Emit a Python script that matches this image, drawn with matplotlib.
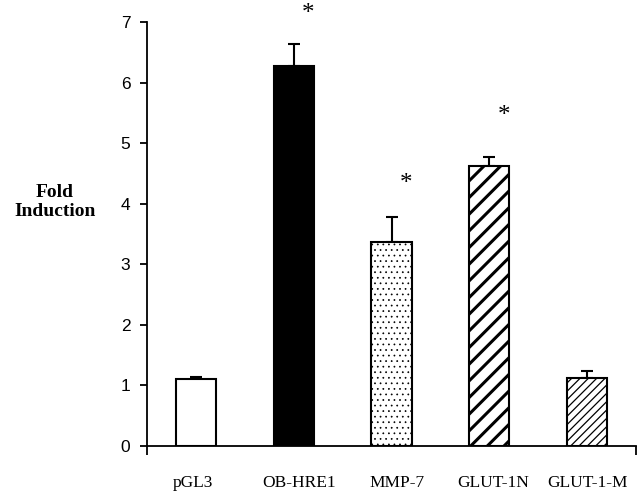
import matplotlib
matplotlib.use("Agg")
import matplotlib.pyplot as plt
import numpy as np

categories = ["pGL3", "OB-HRE1", "MMP-7", "GLUT-1N", "GLUT-1-M"]
fold_induction = [1.10, 6.27, 3.37, 4.62, 1.12]
error_up = [0.04, 0.36, 0.41, 0.15, 0.12]
significant = [False, True, True, True, False]
star_y = [None, 7.21, 4.41, 5.53, None]
yticks = [0, 1, 2, 3, 4, 5, 6, 7]

# small horizontal offsets of the category labels relative to the bars
label_shift = [-0.035, 0.05, 0.06, 0.04, 0.0]

styles = [
    dict(facecolor="white", hatch=None, hlw=1.0, hc="black"),
    dict(facecolor="black", hatch=None, hlw=1.0, hc="black"),
    dict(facecolor="white", hatch="...", hlw=0.5, hc="#666666"),
    dict(facecolor="white", hatch="//", hlw=2.2, hc="black"),
    dict(facecolor="white", hatch="////", hlw=0.9, hc="black"),
]

fig = plt.figure(figsize=(6.4, 4.93), dpi=100)
ax = fig.add_axes([147/640, 47/493, (636-147)/640, (446-22)/493])

x = np.arange(len(categories))
for i, (xi, v, st) in enumerate(zip(x, fold_induction, styles)):
    with plt.rc_context({"hatch.linewidth": st["hlw"], "hatch.color": st["hc"]}):
        b = ax.bar(xi, v, width=0.41, facecolor=st["facecolor"], edgecolor="black",
                   linewidth=1.5, hatch=st["hatch"], zorder=2)
    for p in b:
        if hasattr(p, "set_hatch_linewidth"):
            p.set_hatch_linewidth(st["hlw"])
        if st["hatch"] and hasattr(p, "set_hatchcolor"):
            p.set_hatchcolor(st["hc"])

ax.errorbar(x, fold_induction, yerr=[np.zeros(len(x)), error_up], fmt="none",
            ecolor="black", elinewidth=1.5, capsize=4, capthick=1.5, zorder=1)

for xi, sig, sy in zip(x, significant, star_y):
    if sig:
        ax.annotate("*", xy=(xi + 0.15, sy), xytext=(0, -3.5), textcoords="offset points",
                    ha="center", va="center", fontsize=18,
                    family="Liberation Serif", annotation_clip=False)

ax.set_xlim(-0.5, 4.5)
ax.set_ylim(0, 7)
ax.set_yticks(yticks)
ax.set_yticklabels([str(t) for t in yticks], family="Liberation Sans", fontsize=12.5)
ax.tick_params(axis="y", direction="out", length=5, width=1.3, pad=7)

ax.set_xticks(x + np.array(label_shift))
ax.set_xticklabels(categories, family="Liberation Serif", fontsize=12.5)
ax.tick_params(axis="x", which="major", length=0, pad=21)
ax.set_xticks([-0.5, 4.5], minor=True)
ax.tick_params(axis="x", which="minor", direction="out", length=6.5, width=1.3)

for s in ["top", "right"]:
    ax.spines[s].set_visible(False)
for s in ["left", "bottom"]:
    ax.spines[s].set_linewidth(1.3)

fig.text(55/640, 1 - 202/493, "Fold\nInduction", ha="center", va="center",
         family="Liberation Serif", fontweight="bold", fontsize=14, linespacing=1.2)

fig.savefig("out.png", dpi=100)
